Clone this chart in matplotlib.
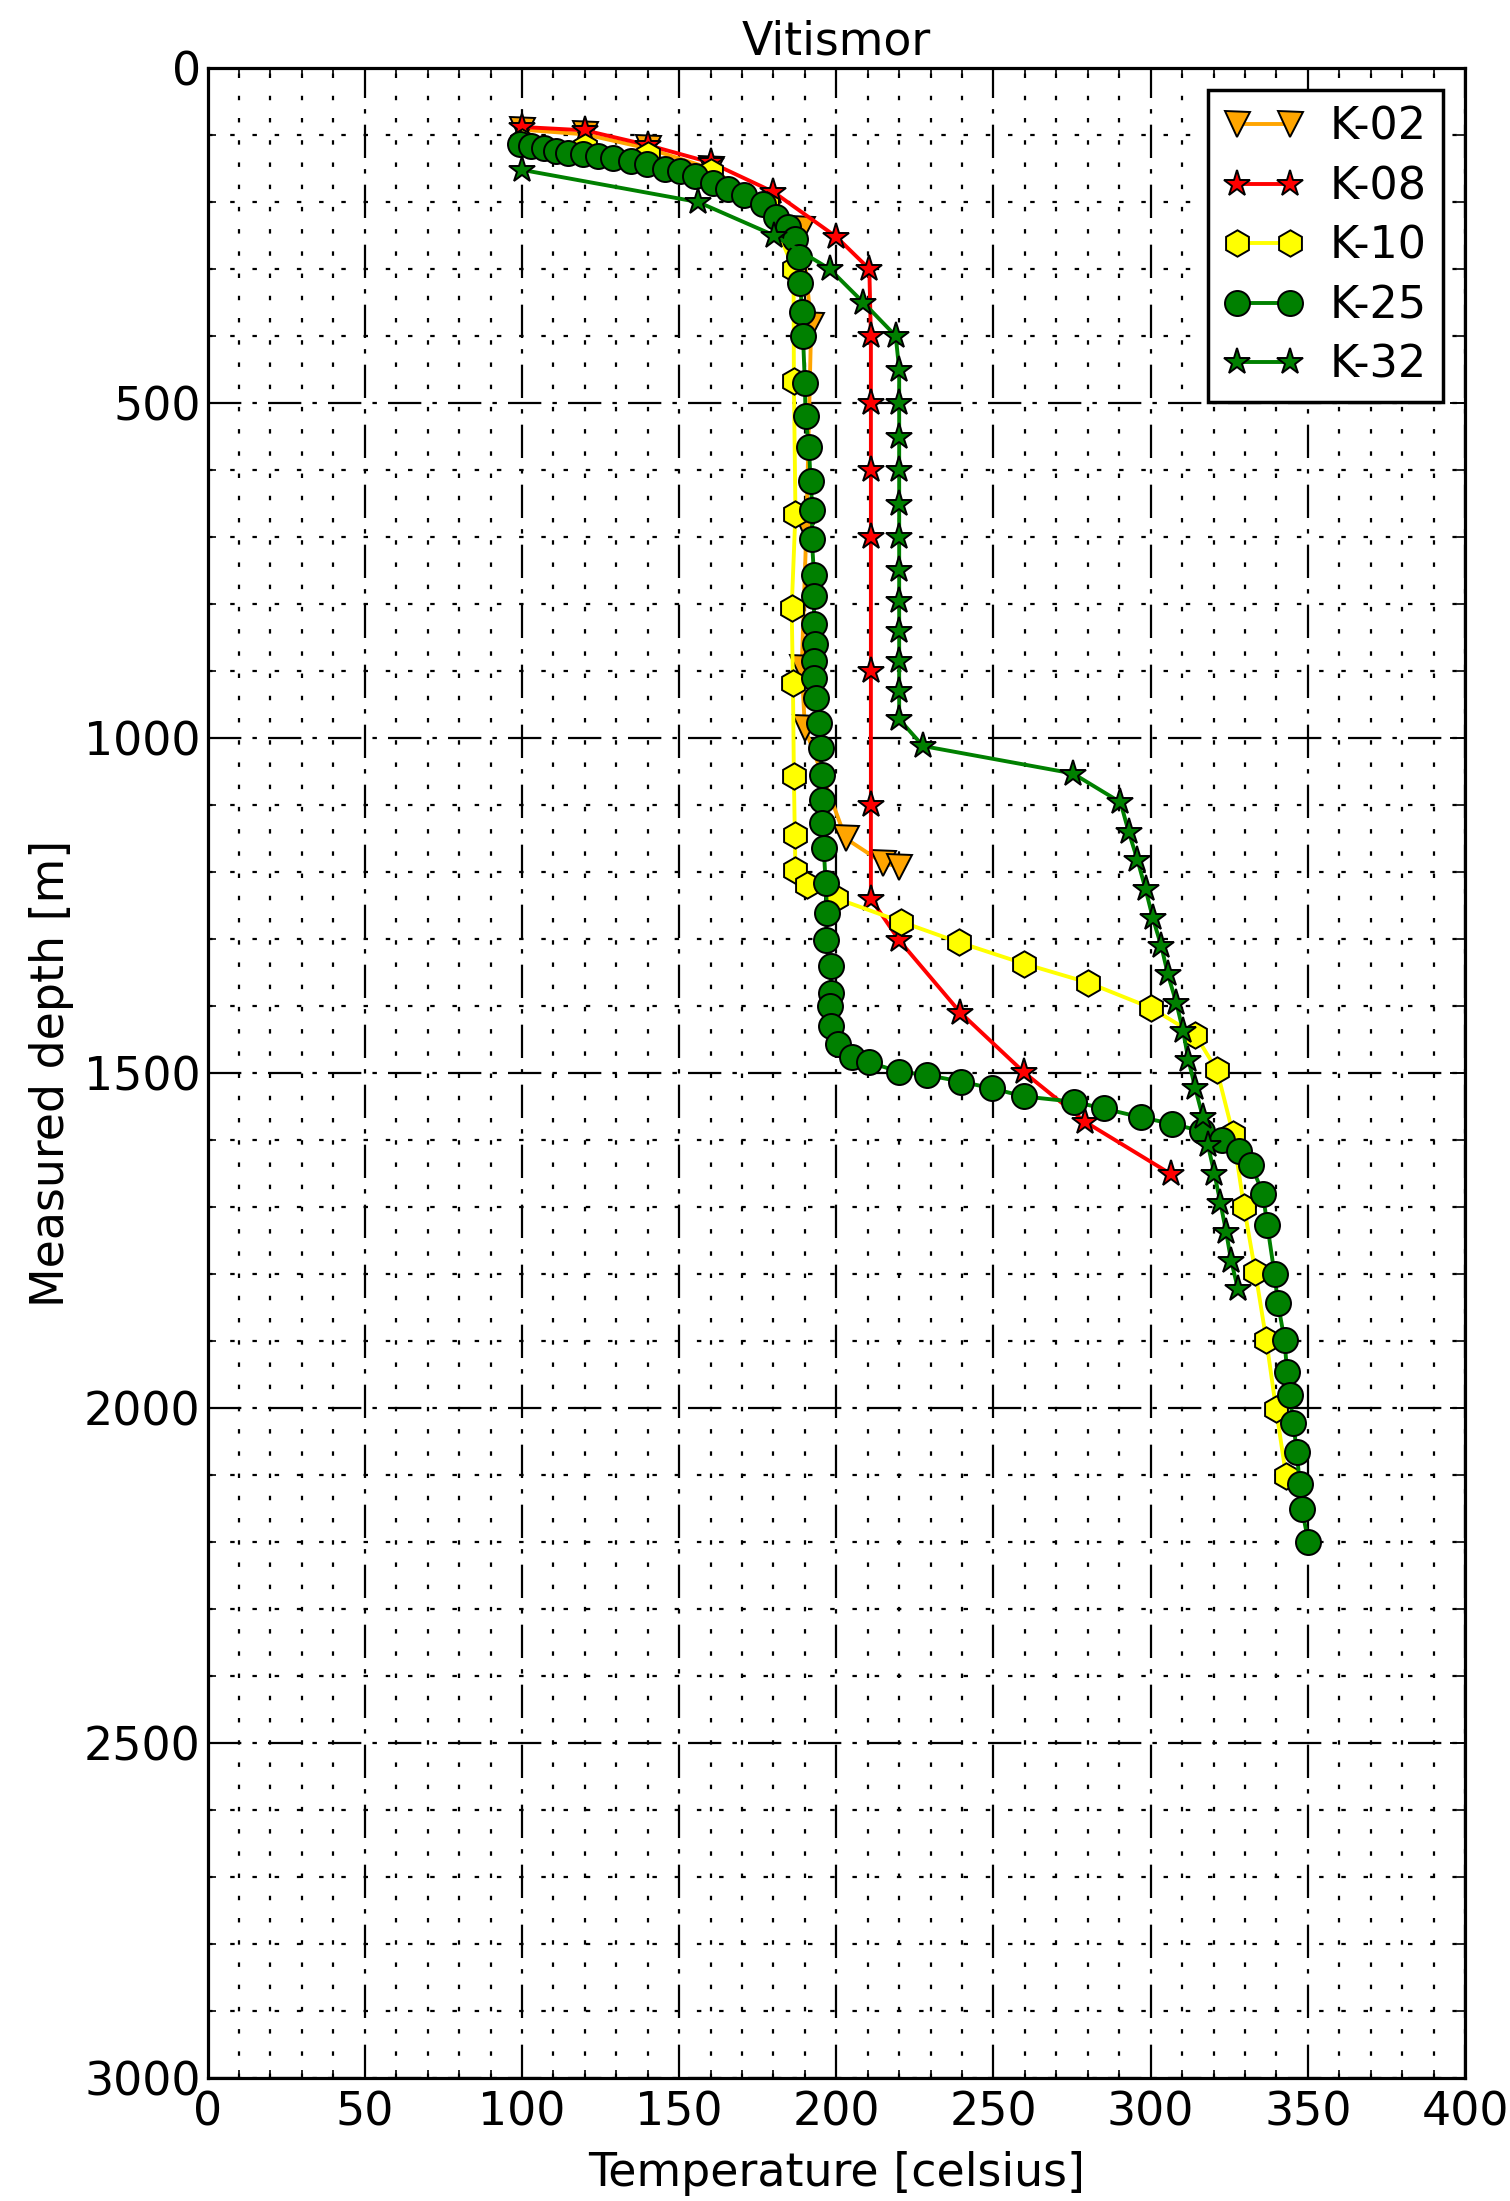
import matplotlib
matplotlib.use("Agg")
import matplotlib.pyplot as plt
from matplotlib.ticker import MultipleLocator

# ---------------- data ----------------
k02_temp = [100, 120, 140, 160, 189, 192, 190.5, 189, 190, 203, 215, 220]
k02_depth = [92, 99, 120, 150, 240, 383, 684, 895, 985, 1150, 1187, 1192]

k08_temp = [100, 120, 140, 160, 180, 200, 210.5, 211, 211, 211, 211, 211, 211, 211,
            220, 239.5, 259.7, 279.2, 306.5]
k08_depth = [88, 93, 115, 141, 185, 252, 300, 400, 500, 600, 700, 900, 1100, 1240,
             1302, 1410, 1499, 1573, 1651]

k10_temp = [100, 120, 140, 160, 178, 186.4, 186.5, 187, 185.8, 186.2, 186.5, 186.8, 187,
            190.8, 199.8, 220.5, 239, 259.8, 280, 300.2, 314.2, 321.1, 326.2, 329.7,
            333.3, 336.8, 339.9, 343.1]
k10_depth = [110, 118, 130, 155, 205, 300, 467, 665, 806, 918, 1056, 1145, 1197,
             1219, 1239, 1274, 1305, 1337, 1365, 1403, 1443, 1496, 1591, 1700,
             1797, 1899, 2002, 2102]

k25_temp = [99.4, 103, 107, 110.7, 114.6, 119.5, 124.3, 129, 134.7, 139.8, 145.4, 150.2,
            155, 160.8, 165.7, 170.6, 176.6, 180.9, 184.5, 187, 188.2, 188.4, 189.2,
            189.4, 190, 190.2, 191.3, 191.8, 192.4, 192.2, 192.9, 192.9, 192.9, 193.2,
            192.9, 192.9, 193.4, 194.5, 195, 195.3, 195.5, 195.5, 196, 196.6, 197.1,
            196.6, 198.2, 198.2, 198.1, 198.2, 200.5, 205, 210.5, 219.8, 228.8, 239.8,
            249.6, 259.7, 275.7, 285, 296.8, 306.9, 316.4, 322.7, 328, 332, 335.7,
            337.1, 339.4, 340.5, 342.6, 343.4, 344.2, 345.4, 346.5, 347.4, 348.1, 350.2]
k25_depth = [114, 116, 120, 124, 127, 129, 131, 135, 139, 144, 151, 153,
             161, 172, 181, 190, 203, 222, 238, 255, 282, 321, 364,
             400, 470, 519, 566, 616, 659, 703, 756, 788, 830, 860,
             885, 910, 940, 977, 1015, 1055, 1092, 1127, 1164, 1216, 1261,
             1301, 1341, 1381, 1400, 1430, 1457, 1476, 1484, 1498, 1503, 1513,
             1523, 1535, 1543, 1553, 1566, 1576, 1587, 1600, 1617, 1637, 1680,
             1727, 1800, 1844, 1899, 1947, 1980, 2023, 2066, 2113, 2151, 2200]

k32_temp = [100, 156, 180.3, 197.9, 208.6, 218.9, 220, 220, 220, 220, 220, 220, 220,
            220, 220, 220, 220, 220, 227.6, 275.3, 290.4, 293, 295.8, 298.4, 300.7,
            303.4, 305.5, 308.2, 310.3, 312, 314.2, 316.6, 318.2, 320.3, 322.2, 324,
            325.6, 327.8]
k32_depth = [152, 200, 250, 300, 350, 400, 450, 500, 550, 600, 650, 700, 750,
             795, 840, 885, 930, 972, 1012, 1053, 1096, 1140, 1182, 1226, 1269,
             1311, 1353, 1396, 1437, 1480, 1523, 1566, 1607, 1651, 1694, 1737,
             1780, 1823]

series_names = ["K-02", "K-08", "K-10", "K-25", "K-32"]
series_colors = ["#FFA500", "#FF0000", "#FFFF00", "#008000", "#008000"]
series_markers = ["v", "*", "h", "o", "*"]

title_text = "Vitismor"
xlabel_text = "Temperature [celsius]"
ylabel_text = "Measured depth [m]"

# ---------------- figure ----------------
plt.rcParams["font.family"] = ["DejaVu Sans"]
FS = 33
fig = plt.figure(figsize=(15.10, 22.01), dpi=100)
fig.patch.set_facecolor("white")
ax = fig.add_axes([0.1375, 0.0559, 0.9702 - 0.1375, 0.9691 - 0.0559])

temps = [k02_temp, k08_temp, k10_temp, k25_temp, k32_temp]
depths = [k02_depth, k08_depth, k10_depth, k25_depth, k32_depth]
msizes = [18, 20, 19, 18, 20]

for t, d, name, c, m, ms in zip(temps, depths, series_names, series_colors,
                                series_markers, msizes):
    ax.plot(t, d, color=c, lw=2.8, marker=m, markersize=ms,
            markerfacecolor=c, markeredgecolor="black", markeredgewidth=1.4,
            label=name)

ax.set_xlim(0, 400)
ax.set_ylim(3000, 0)
ax.xaxis.set_major_locator(MultipleLocator(50))
ax.xaxis.set_minor_locator(MultipleLocator(10))
ax.yaxis.set_major_locator(MultipleLocator(500))
ax.yaxis.set_minor_locator(MultipleLocator(100))

ax.grid(True, which="major", color="black", lw=1.6, linestyle=(0, (15, 5, 2, 5)))
ax.grid(True, which="minor", color="black", lw=1.6, linestyle=(0, (2, 8)))
ax.set_axisbelow(True)

ax.tick_params(which="both", direction="in", top=True, right=True)
ax.tick_params(which="major", length=11, width=1.4, labelsize=FS)
ax.tick_params(axis="y", which="major", pad=5)
ax.tick_params(axis="x", which="major", pad=9)
ax.tick_params(which="minor", length=5.5, width=1.2)
for sp in ax.spines.values():
    sp.set_linewidth(2.3)

ax.set_title(title_text, fontsize=FS, pad=10)
ax.set_xlabel(xlabel_text, fontsize=FS, labelpad=11)
ax.set_ylabel(ylabel_text, fontsize=FS, labelpad=7)

leg = ax.legend(loc="upper right", fontsize=32, numpoints=2, fancybox=False,
                frameon=True, handlelength=1.8, handletextpad=0.6,
                labelspacing=0.37, borderpad=0.35, borderaxespad=0.5)
leg.get_frame().set_edgecolor("black")
leg.get_frame().set_linewidth(2.5)
leg.get_frame().set_alpha(1.0)

fig.savefig("out.png", dpi=100, facecolor="white")
